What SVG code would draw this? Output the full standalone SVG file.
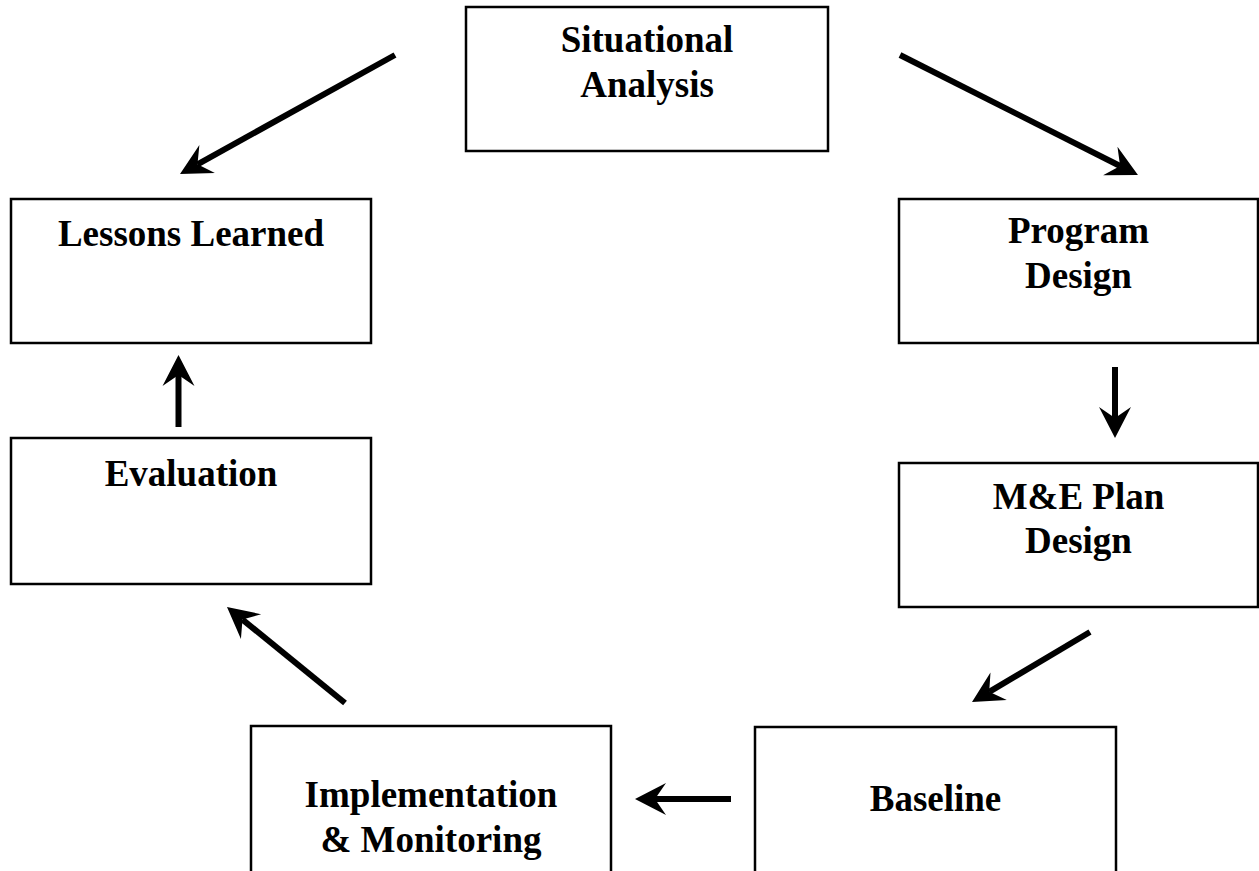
<svg xmlns="http://www.w3.org/2000/svg" width="1259" height="871" viewBox="0 0 1259 871">
  <style>
    .box { fill: #ffffff; stroke: #000000; stroke-width: 2.5; }
    .lbl { font-family: "Liberation Serif", "Times New Roman", serif; font-weight: bold; font-size: 37px; fill: #000000; text-anchor: middle; }
    .conn { stroke: #000000; stroke-width: 6; fill: none; marker-end: url(#head); }
  </style>
  <defs>
    <marker id="head" markerUnits="userSpaceOnUse" viewBox="-12 -17 33 34" refX="0" refY="0" markerWidth="33" markerHeight="34" orient="auto" overflow="visible">
      <path d="M20,0 L-11,-16 L0,0 L-11,16 Z" fill="#000000"/>
    </marker>
  </defs>
  <rect width="1259" height="871" fill="#ffffff"/>

  <g id="situational-analysis">
    <rect class="box" x="466" y="7" width="362" height="144"/>
    <text class="lbl" x="647" y="52">Situational</text>
    <text class="lbl" x="647" y="97">Analysis</text>
  </g>
  <g id="program-design">
    <rect class="box" x="899" y="199" width="359" height="144"/>
    <text class="lbl" x="1078.5" y="243">Program</text>
    <text class="lbl" x="1078.5" y="288">Design</text>
  </g>
  <g id="me-plan-design">
    <rect class="box" x="899" y="463" width="359" height="144"/>
    <text class="lbl" x="1078.5" y="509">M&amp;E Plan</text>
    <text class="lbl" x="1078.5" y="553">Design</text>
  </g>
  <g id="baseline">
    <rect class="box" x="755" y="727" width="361" height="150"/>
    <text class="lbl" x="935.5" y="811">Baseline</text>
  </g>
  <g id="implementation-monitoring">
    <rect class="box" x="251" y="726" width="360" height="151"/>
    <text class="lbl" x="431" y="807">Implementation</text>
    <text class="lbl" x="431" y="852">&amp; Monitoring</text>
  </g>
  <g id="evaluation">
    <rect class="box" x="11" y="438" width="360" height="146"/>
    <text class="lbl" x="191" y="486">Evaluation</text>
  </g>
  <g id="lessons-learned">
    <rect class="box" x="11" y="199" width="360" height="144"/>
    <text class="lbl" x="191" y="246">Lessons Learned</text>
  </g>

  <g id="connectors">
    <line class="conn" x1="395" y1="55" x2="197.5" y2="164.3"/>
    <line class="conn" x1="900" y1="55" x2="1120.1" y2="166"/>
    <line class="conn" x1="1115" y1="367" x2="1115" y2="418"/>
    <line class="conn" x1="1090" y1="632" x2="989.2" y2="691.8"/>
    <line class="conn" x1="731" y1="799" x2="655" y2="799"/>
    <line class="conn" x1="345" y1="703" x2="242.5" y2="619.6"/>
    <line class="conn" x1="178.5" y1="427" x2="178.5" y2="375"/>
  </g>
</svg>
